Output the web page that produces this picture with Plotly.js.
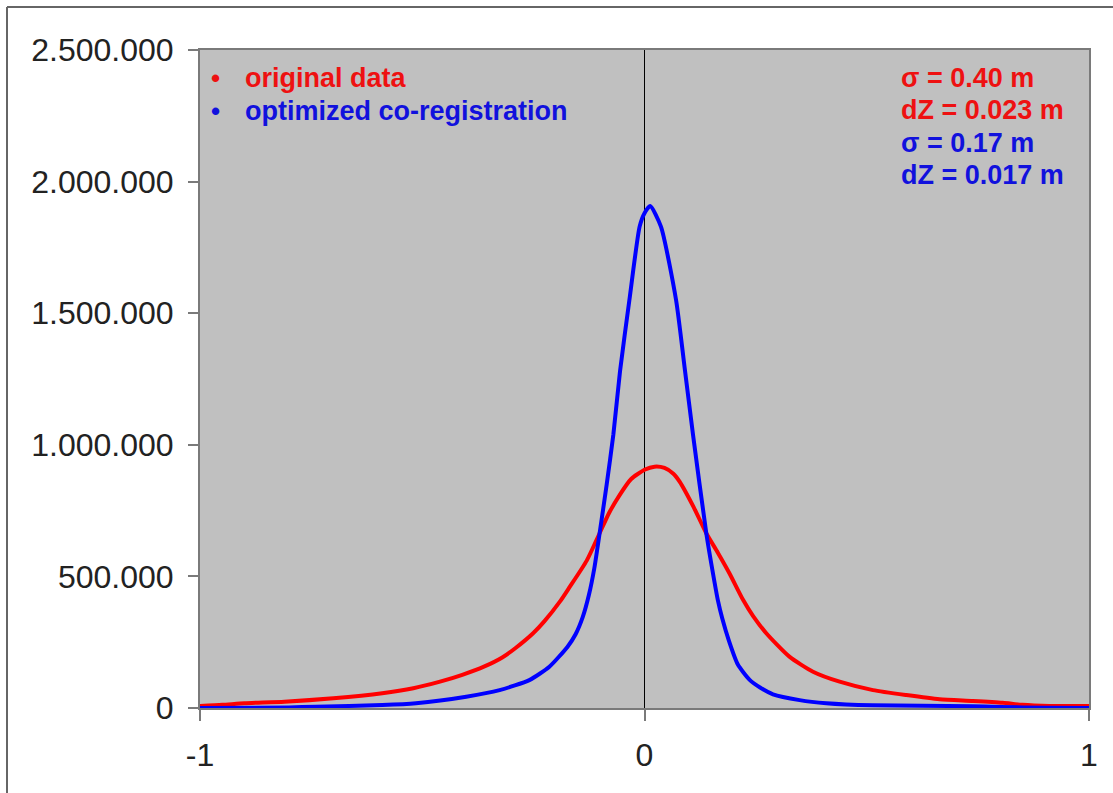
<!DOCTYPE html>
<html>
<head>
<meta charset="utf-8">
<script src="https://cdn.plot.ly/plotly-3.0.1.min.js"></script>
<style>html,body{margin:0;padding:0;background:#fff;}#chart{width:1113px;height:793px;}</style>
</head>
<body>
<div id="chart"></div>
<script>
// Red: original data
const redX = [-1.0, -0.95, -0.90, -0.81, -0.70, -0.59, -0.52, -0.46, -0.41, -0.36, -0.32, -0.29, -0.25, -0.225, -0.19, -0.169, -0.13, -0.101, -0.08, -0.056, -0.03, 0.0, 0.0225, 0.045, 0.065, 0.079, 0.11, 0.139, 0.165, 0.191, 0.222, 0.244, 0.274, 0.326, 0.379, 0.439, 0.514, 0.589, 0.664, 0.739, 0.806, 0.85, 0.911, 1.0];
const redY = [8000, 12000, 18000, 24000, 37000, 56000, 75000, 100000, 126000, 158000, 192000, 228000, 285000, 330000, 405000, 458000, 560000, 664000, 740000, 809000, 870000, 905000, 917000, 912000, 890000, 860000, 765000, 664000, 590000, 512000, 410000, 350000, 284000, 195000, 138000, 100000, 68000, 49000, 33000, 27000, 20000, 12000, 8000, 8000];
// Blue: optimized co-registration
const blueX = [-1.0, -0.8, -0.74, -0.59, -0.514, -0.401, -0.326, -0.259, -0.214, -0.173, -0.155, -0.139, -0.125, -0.113, -0.101, -0.085, -0.07, -0.055, -0.034, -0.011, 0.0, 0.0128, 0.037, 0.071, 0.09, 0.109, 0.139, 0.154, 0.165, 0.175, 0.19, 0.21, 0.236, 0.26, 0.289, 0.349, 0.409, 0.513, 0.738, 0.8, 0.9, 1.0];
const blueY = [0, 2000, 5000, 11000, 18000, 43000, 68000, 106000, 157000, 233000, 280000, 345000, 430000, 530000, 664000, 850000, 1040000, 1280000, 1550000, 1829000, 1880000, 1907000, 1829000, 1550000, 1297000, 1040000, 664000, 512000, 410000, 340000, 255000, 165000, 108000, 78000, 52000, 30000, 18000, 10000, 7000, 4000, 1000, 0];

const yTicks = [0, 500000, 1000000, 1500000, 2000000, 2500000];
const yTickText = ['0', '500.000', '1.000.000', '1.500.000', '2.000.000', '2.500.000'];
const xTicks = [-1, 0, 1];
const xTickText = ['-1', '0', '1'];

const legendLabels = ['original data', 'optimized co-registration'];
const statLabels = ['σ = 0.40 m', 'dZ = 0.023 m', 'σ = 0.17 m', 'dZ = 0.017 m'];

const RED = '#ff0000', BLUE = '#0000ff';
const TXT_RED = '#ee1111', TXT_BLUE = '#1111dd';
const FONT = 'Liberation Sans, Arial, sans-serif';

const traces = [
  {x: redX, y: redY, mode: 'lines', line: {color: RED, width: 4, shape: 'spline', smoothing: 0.6}, name: legendLabels[0], hoverinfo: 'skip'},
  {x: blueX, y: blueY, mode: 'lines', line: {color: BLUE, width: 4, shape: 'spline', smoothing: 0.6}, name: legendLabels[1], hoverinfo: 'skip'}
];

// pixel helpers for paper coordinates
const L = 200, R = 1089, T = 50, B = 708;
const px = v => (v - L) / (R - L);
const py = v => (B - v) / (B - T);

const ann = [];
const tfont = (c) => ({family: FONT, size: 27, color: c, weight: 700});
ann.push({xref: 'paper', yref: 'paper', x: px(215), y: py(78), text: '<b>•</b>', showarrow: false, xanchor: 'center', yanchor: 'middle', font: {family: FONT, size: 26, color: TXT_RED}});
ann.push({xref: 'paper', yref: 'paper', x: px(215), y: py(111), text: '<b>•</b>', showarrow: false, xanchor: 'center', yanchor: 'middle', font: {family: FONT, size: 26, color: TXT_BLUE}});
ann.push({xref: 'paper', yref: 'paper', x: px(243), y: py(78), text: '<b>' + legendLabels[0] + '</b>', showarrow: false, xanchor: 'left', yanchor: 'middle', font: tfont(TXT_RED)});
ann.push({xref: 'paper', yref: 'paper', x: px(243), y: py(111), text: '<b>' + legendLabels[1] + '</b>', showarrow: false, xanchor: 'left', yanchor: 'middle', font: tfont(TXT_BLUE)});
const statY = [78, 110, 143, 175];
const statC = [TXT_RED, TXT_RED, TXT_BLUE, TXT_BLUE];
statLabels.forEach((s, i) => {
  ann.push({xref: 'paper', yref: 'paper', x: px(899), y: py(statY[i]), text: '<b>' + s + '</b>', showarrow: false, xanchor: 'left', yanchor: 'middle', font: tfont(statC[i])});
});

const layout = {
  width: 1113, height: 793,
  margin: {l: L, r: 1113 - R, t: T, b: 793 - B, pad: 0},
  paper_bgcolor: '#ffffff',
  plot_bgcolor: '#c0c0c0',
  showlegend: false,
  font: {family: FONT, size: 32, color: '#222'},
  xaxis: {
    range: [-1, 1], tickvals: xTicks, ticktext: xTickText,
    showgrid: false, zeroline: true, zerolinecolor: '#000', zerolinewidth: 1,
    showline: true, linecolor: '#7a7a7a', linewidth: 2, mirror: true,
    ticks: 'outside', ticklen: 11, tickwidth: 2, tickcolor: '#7a7a7a',
    ticklabelstandoff: 7,
    tickfont: {family: FONT, size: 32, color: '#222'}
  },
  yaxis: {
    range: [0, 2500000], tickvals: yTicks, ticktext: yTickText,
    showgrid: false, zeroline: false,
    showline: true, linecolor: '#7a7a7a', linewidth: 2, mirror: true,
    ticks: 'outside', ticklen: 10, tickwidth: 2, tickcolor: '#7a7a7a',
    ticklabelstandoff: 8,
    tickfont: {family: FONT, size: 32, color: '#222'}
  },
  annotations: ann,
  shapes: [
    {type: 'line', xref: 'paper', yref: 'paper', x0: px(7), x1: px(7), y0: py(7), y1: py(800), line: {color: '#666', width: 2}},
    {type: 'line', xref: 'paper', yref: 'paper', x0: px(7), x1: px(1120), y0: py(7), y1: py(7), line: {color: '#666', width: 2}}
  ]
};

Plotly.newPlot('chart', traces, layout, {staticPlot: true, displayModeBar: false});
</script>
</body>
</html>
